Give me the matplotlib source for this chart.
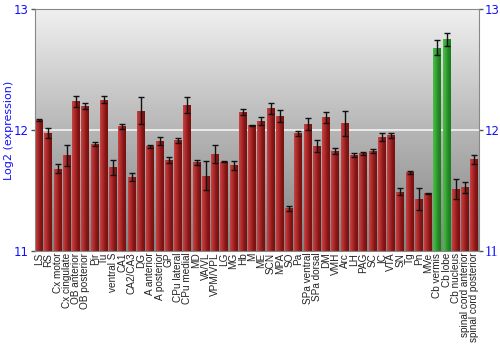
import numpy as np
import matplotlib
matplotlib.use("Agg")
from matplotlib import pyplot as plt
from matplotlib.colors import LinearSegmentedColormap

# Region labels, mean log2 expression and error
regions = ["LS", "RS", "Cx motor", "Cx cingulate", "OB anterior", "OB posterior",
           "Pir", "Tu", "ventral S", "CA1", "CA2/CA3", "DG", "A anterior",
           "A posterior", "GP", "CPu lateral", "CPu medial", "MD", "VA/VL",
           "VPM/VPL", "LG", "MG", "Hb", "M", "ME", "SCN", "MPA", "SO", "Pa",
           "SPa ventral", "SPa dorsal", "DM", "VMH", "Arc", "LH", "PAG", "SC",
           "IC", "VTA", "SN", "Tg", "Pn", "MVe", "Cb vermis", "Cb lobe",
           "Cb nucleus", "spinal cord anterior", "spinal cord posterior"]
values = [12.083, 11.973, 11.68, 11.79, 12.24, 12.20,
          11.884, 12.25, 11.69, 12.03, 11.61, 12.16, 11.867,
          11.909, 11.75, 11.914, 12.21, 11.734, 11.62,
          11.80, 11.737, 11.707, 12.147, 12.039, 12.077, 12.18, 12.12, 11.35, 11.973,
          12.047, 11.867, 12.105, 11.826, 12.055, 11.795, 11.807, 11.826,
          11.942, 11.956, 11.488, 11.649, 11.427, 11.477, 12.683, 12.752,
          11.508, 11.524, 11.757]
errors = [0.01, 0.04, 0.037, 0.085, 0.045, 0.025,
          0.02, 0.03, 0.06, 0.02, 0.03, 0.11, 0.012,
          0.03, 0.025, 0.02, 0.065, 0.02, 0.12,
          0.075, 0.006, 0.04, 0.025, 0.005, 0.035, 0.045, 0.05, 0.02, 0.02,
          0.05, 0.047, 0.045, 0.026, 0.105, 0.017, 0.012, 0.018,
          0.037, 0.02, 0.028, 0.01, 0.09, 0.004, 0.062, 0.055,
          0.083, 0.046, 0.037]
highlight = ["Cb vermis", "Cb lobe"]
yticks = [11, 12, 13]

ymin, ymax = 11, 13
blue = "#1010ff"

red_cmap = LinearSegmentedColormap.from_list("r", ["#c84444", "#b02c2c", "#881818", "#781010"])
green_cmap = LinearSegmentedColormap.from_list("g", ["#4cbc4c", "#3aa83a", "#228a22", "#1c7a1c"])

fig = plt.figure(figsize=(5, 3.5), dpi=100)
ax = fig.add_axes([0.069, 0.284, 0.889, 0.689])

n = len(regions)
x = np.arange(n)

# gray gradient background, light at the top
grad = np.linspace(0, 1, 256).reshape(-1, 1)
bg_cmap = LinearSegmentedColormap.from_list("bg", ["#f0f0f0", "#b6b6b6", "#828282"])
ax.imshow(grad, aspect="auto", cmap=bg_cmap, origin="upper",
          extent=(-0.5, n - 0.5, ymin, ymax), zorder=0)
ax.axhline(12, color="#f4f4f4", lw=1.2, zorder=1)

width = 0.86
hgrad = np.linspace(0, 1, 64).reshape(1, -1)
bars = ax.bar(x, np.array(values) - ymin, width=width, bottom=ymin,
              color="none", edgecolor="none", zorder=2)
for name, b in zip(regions, bars):
    cm = green_cmap if name in highlight else red_cmap
    x0 = b.get_x()
    im = ax.imshow(hgrad, aspect="auto", cmap=cm,
                   extent=(x0, x0 + b.get_width(), ymin, b.get_y() + b.get_height()),
                   zorder=2)
    im.set_clip_path(b)

ax.errorbar(x, values, yerr=errors, fmt="none", ecolor="#111111", elinewidth=1,
            capsize=2.2, capthick=1, zorder=3)

ax.set_xlim(-0.5, n - 0.5)
ax.set_ylim(ymin, ymax)

ax.set_xticks(x)
ax.set_xticklabels(regions, rotation=90, fontsize=7.2, family="Liberation Sans",
                   color="#222222")
ax.tick_params(axis="x", length=0, pad=1.5)

ax.set_yticks(yticks)
ax.tick_params(axis="y", colors="#555555", labelcolor=blue, labelsize=8.5,
               length=3, width=1, direction="out", right=True, labelright=True, pad=1)
# the right-hand "11" is drawn in a serif face in the reference
lab11 = ax.yaxis.get_major_ticks()[0].label2
lab11.set_fontfamily("Liberation Serif")
lab11.set_fontsize(10)
ax.set_ylabel("Log2 (expression)", color=blue, fontsize=8, va="center")
ax.yaxis.set_label_coords(-0.058, 0.5)

for s in ax.spines.values():
    s.set_color("#888888")

fig.savefig("out.png", dpi=100)
